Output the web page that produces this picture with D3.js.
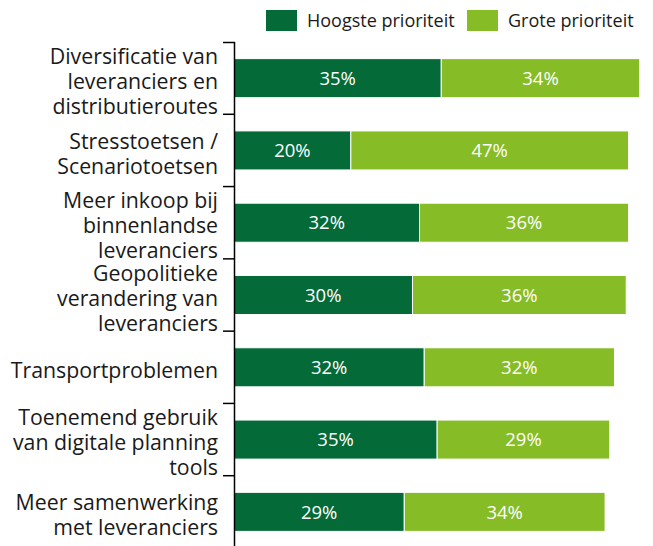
<!DOCTYPE html>
<html>
<head>
<meta charset="utf-8">
<script src="https://cdn.jsdelivr.net/npm/d3@7"></script>
<style>
  body { margin: 0; background: #fff; }
  text { font-family: "Open Sans", sans-serif; }
</style>
</head>
<body>
<div id="chart"></div>
<script>
// categories (top to bottom), each label split into lines
const categories = [
  ["Diversificatie van", "leveranciers en", "distributieroutes"],
  ["Stresstoetsen /", "Scenariotoetsen"],
  ["Meer inkoop bij", "binnenlandse", "leveranciers"],
  ["Geopolitieke", "verandering van", "leveranciers"],
  ["Transportproblemen"],
  ["Toenemend gebruik", "van digitale planning", "tools"],
  ["Meer samenwerking", "met leveranciers"]
];
const seriesNames = ["Hoogste prioriteit", "Grote prioriteit"];
const hoogste = [35.3, 19.9, 31.6, 30.4, 32.4, 34.6, 29.0];
const grote   = [33.8, 47.3, 35.6, 36.4, 32.4, 29.4, 34.2];
const colors = ["#046a38", "#86bc25"];

const W = 653, H = 546;
const margin = {top: 42, left: 234};
const plotW = 411, plotH = 506;

const svg = d3.select("#chart").append("svg")
    .attr("width", W)
    .attr("height", H);

const keys = categories.map(d => d.join(" "));
const data = keys.map((k, i) => ({key: k, lines: categories[i], h: hoogste[i], g: grote[i]}));

const x = d3.scaleLinear().domain([0, 70]).range([0, plotW]);
const y = d3.scaleBand()
    .domain(keys)
    .range([0, plotH])
    .paddingInner(0.46)
    .paddingOuter(0.23);

const g = svg.append("g")
    .attr("transform", "translate(" + margin.left + "," + margin.top + ")");

const stacked = d3.stack().keys(["h", "g"])(data);

// bars
g.selectAll("g.layer")
  .data(stacked)
  .enter().append("g")
    .attr("class", "layer")
    .attr("fill", (d, i) => colors[i])
  .selectAll("rect")
  .data(d => d)
  .enter().append("rect")
    .attr("x", d => x(d[0]))
    .attr("y", d => y(d.data.key))
    .attr("width", d => x(d[1]) - x(d[0]))
    .attr("height", y.bandwidth())
    .attr("stroke", "#fff")
    .attr("stroke-width", 1);

// value labels
g.selectAll("g.vals")
  .data(stacked)
  .enter().append("g")
    .attr("class", "vals")
  .selectAll("text")
  .data(d => d)
  .enter().append("text")
    .attr("x", d => x((d[0] + d[1]) / 2))
    .attr("y", d => y(d.data.key) + y.bandwidth() / 2)
    .attr("dy", "0.36em")
    .attr("text-anchor", "middle")
    .attr("fill", "#fff")
    .attr("font-size", 18.5)
    .text(d => Math.round(d[1] - d[0]) + "%");

// y axis: line with ticks between the categories
const axis = g.append("g")
    .call(d3.axisLeft(y).tickSize(0).tickSizeOuter(11).tickFormat(""));
axis.select(".domain").attr("stroke", "#000").attr("stroke-width", 1.5);

const step = y.step();
const bounds = keys.slice(1).map(k => y(k) - y.paddingInner() * step / 2);
g.selectAll("line.sep")
  .data(bounds)
  .enter().append("line")
    .attr("class", "sep")
    .attr("x1", -11).attr("x2", 0)
    .attr("y1", d => d).attr("y2", d => d)
    .attr("stroke", "#000")
    .attr("stroke-width", 1.5);

// category labels
const lineH = 25;
g.selectAll("text.cat")
  .data(data)
  .enter().append("text")
    .attr("class", "cat")
    .attr("text-anchor", "end")
    .attr("font-size", 21.3)
    .attr("fill", "#1a1a1a")
    .each(function(d) {
      const t = d3.select(this);
      const cy = y(d.key) + y.bandwidth() / 2 + 3;
      const n = d.lines.length;
      d.lines.forEach((ln, j) => {
        t.append("tspan")
          .attr("x", -16)
          .attr("y", cy + (j - (n - 1) / 2) * lineH)
          .attr("dy", "0.36em")
          .text(ln);
      });
    });

// legend
const legendX = [266, 467];
const legend = svg.append("g").selectAll("g")
  .data(seriesNames)
  .enter().append("g")
    .attr("transform", (d, i) => "translate(" + legendX[i] + ",10)");
legend.append("rect")
    .attr("width", 31)
    .attr("height", 21)
    .attr("fill", (d, i) => colors[i]);
legend.append("text")
    .attr("x", 41)
    .attr("y", 11)
    .attr("dy", "0.36em")
    .attr("font-size", 18)
    .attr("fill", "#1a1a1a")
    .text(d => d);
</script>
</body>
</html>
